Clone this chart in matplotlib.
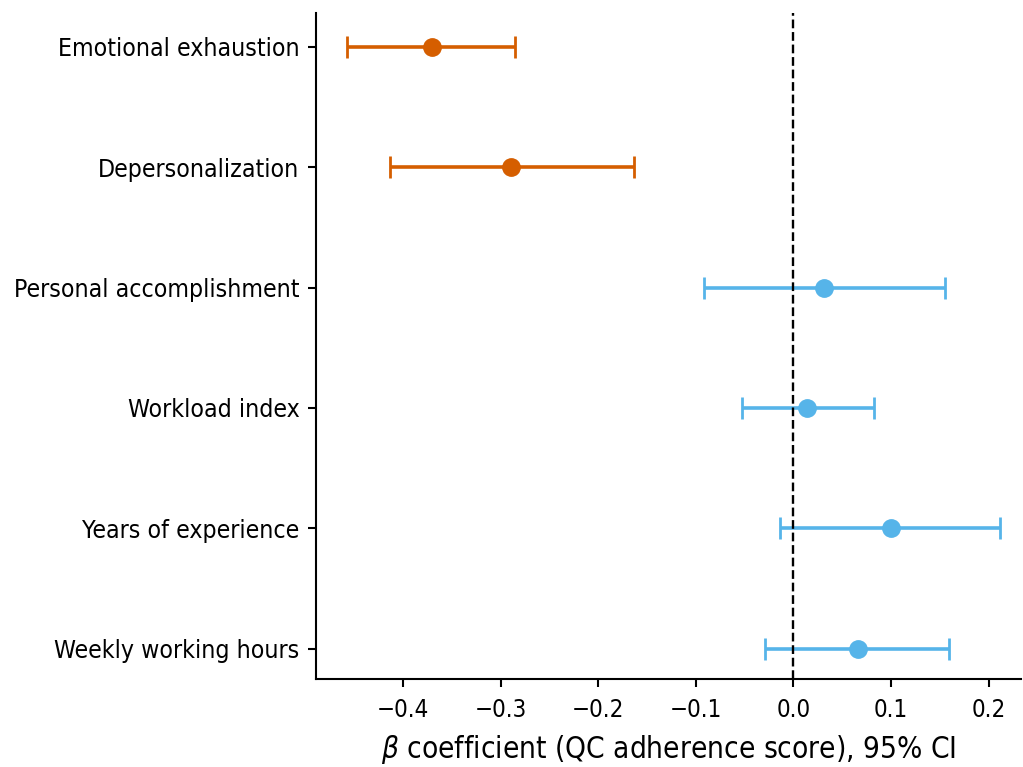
import numpy as np
import matplotlib
matplotlib.use('Agg')
import matplotlib.pyplot as plt

# --------------------------------- #

labels = ['Emotional exhaustion', 'Depersonalization', 'Personal accomplishment',
          'Workload index', 'Years of experience', 'Weekly working hours']
beta = [-0.370, -0.289, 0.031, 0.014, 0.100, 0.066]
ci_low = [-0.457, -0.413, -0.092, -0.053, -0.014, -0.029]
ci_high = [-0.285, -0.163, 0.155, 0.082, 0.212, 0.159]
significant = [True, True, False, False, False, False]

# --------------------------------- #

plt.rcParams['font.family'] = 'DejaVu Sans'
plt.rcParams['font.stretch'] = 'condensed'
plt.rcParams['mathtext.fontset'] = 'dejavusans'

fig = plt.figure(figsize=(10.23, 7.67), dpi=100)
ax = fig.add_axes([0.309, 0.115, 0.689, 0.868])

ypos = np.arange(len(labels))
for y, b, lo, hi, sig in zip(ypos, beta, ci_low, ci_high, significant):
    color = '#D55E00' if sig else '#56B4E9'
    ax.errorbar(b, y, xerr=[[b - lo], [hi - b]], fmt='o', color=color,
                ecolor=color, elinewidth=2.6, capsize=8, capthick=2.0,
                markersize=12.5)

ax.axvline(0, color='black', linestyle='--', linewidth=1.7)

ax.set_yticks(ypos)
ax.set_yticklabels(labels, fontsize=17.8)
ax.set_ylim(5.25, -0.28)
ax.set_xlim(-0.489, 0.233)
ax.set_xticks([-0.4, -0.3, -0.2, -0.1, 0.0, 0.1, 0.2])
ax.tick_params(axis='x', labelsize=17.3, length=6, width=1.5, pad=7.5)
ax.tick_params(axis='y', length=6, width=1.5, pad=6)
ax.set_xlabel(r'$\beta$ coefficient (QC adherence score), 95% CI',
              fontsize=21.3, labelpad=8.5)

for s in ['top', 'right']:
    ax.spines[s].set_visible(False)
for s in ['left', 'bottom']:
    ax.spines[s].set_linewidth(1.5)

fig.savefig('out.png', dpi=100)
